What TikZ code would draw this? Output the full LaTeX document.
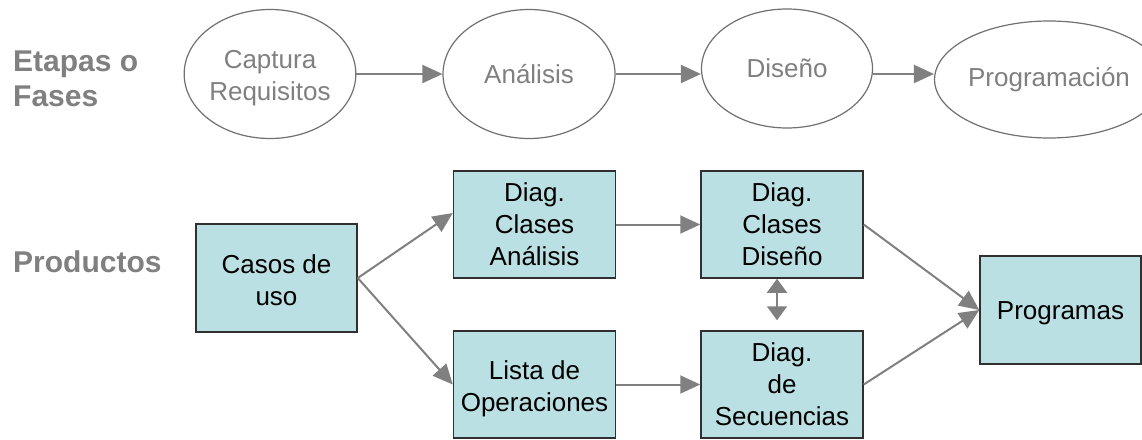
\documentclass[tikz,border=0pt]{standalone}
\usepackage{fontspec}
\setmainfont{Liberation Sans}
\usetikzlibrary{arrows.meta,shapes.geometric}
\definecolor{boxfill}{RGB}{186,224,227}
\definecolor{boxline}{RGB}{48,48,48}
\definecolor{flowgray}{RGB}{128,128,128}
\definecolor{ringgray}{RGB}{112,112,112}
% invisible strut that lowers a text block inside its shape
\newcommand{\lift}[1]{\rule{0pt}{#1}}

\begin{document}
\begin{tikzpicture}[x=1pt,y=-1pt,
  phase/.style={ellipse, draw=ringgray, line width=1.2pt, fill=white,
    inner sep=0pt, align=center, text=flowgray,
    font=\fontsize{26}{32}\selectfont},
  product/.style={rectangle, draw=boxline, line width=1.5pt, fill=boxfill,
    inner sep=0pt, minimum width=162pt, minimum height=107pt,
    align=center, font=\fontsize{26}{32}\selectfont},
  rowlabel/.style={text=flowgray, align=left, inner sep=0pt,
    font=\bfseries\fontsize{30}{35}\selectfont},
  flow/.style={draw=flowgray, line width=2pt,
    -{Triangle[length=20pt,width=18pt]}},
  twoway/.style={draw=flowgray, line width=2pt,
    {Triangle[length=14pt,width=20pt]}-{Triangle[length=14pt,width=20pt]}},
]
\useasboundingbox (0,0) rectangle (1142,439);

% row labels
\node[rowlabel, anchor=west] (etapas) at (13,78.75) {Etapas o\\Fases};
\node[rowlabel, anchor=base west] (productos) at (13,272) {Productos};

% phases
\node[phase, minimum width=170pt, minimum height=129pt] (cap) at (270,74) {\lift{25.5pt}Captura\\Requisitos};
\node[phase, minimum width=172pt, minimum height=129pt] (ana) at (529,74) {Análisis};
\node[phase, minimum width=171pt, minimum height=119pt] (dis) at (787,68.5) {Diseño};
\node[phase, minimum width=182pt, minimum height=117pt] (prog) at (1049,79.5) {Programación};

\draw[flow] (cap.east) -- (ana.west);
\draw[flow] (ana.east) -- (ana.east -| dis.west);
\draw[flow] (dis.east |- ana.east) -- (prog.west |- ana.east);

% products
\node[product, minimum width=161pt, minimum height=108pt] (casos) at (276.5,278) {\lift{24pt}Casos de\\uso};
\node[product] (dca) at (534.5,224.5) {Diag.\\Clases\\Análisis};
\node[product] (lista) at (534.5,384.5) {\lift{28pt}Lista de\\Operaciones};
\node[product] (dcd) at (782,224.5) {Diag.\\Clases\\Diseño};
\node[product] (sec) at (782,384.5) {Diag.\\de\\Secuencias};
\node[product, minimum width=161pt, minimum height=108pt] (progr) at (1060.5,310) {\lift{25pt}Programas};

\draw[flow] (casos.east) -- (dca.172);
\draw[flow] (casos.east) -- (lista.west);
\draw[flow] (dca.east) -- (dcd.west);
\draw[flow] (lista.east) -- (sec.west);
\draw[flow] (dcd.east) -- (progr.west);
\draw[flow] (sec.east) -- (progr.west);
\draw[twoway] ([xshift=-5pt]dcd.south) -- ([xshift=-5pt,yshift=10pt]sec.north);
\end{tikzpicture}
\end{document}
